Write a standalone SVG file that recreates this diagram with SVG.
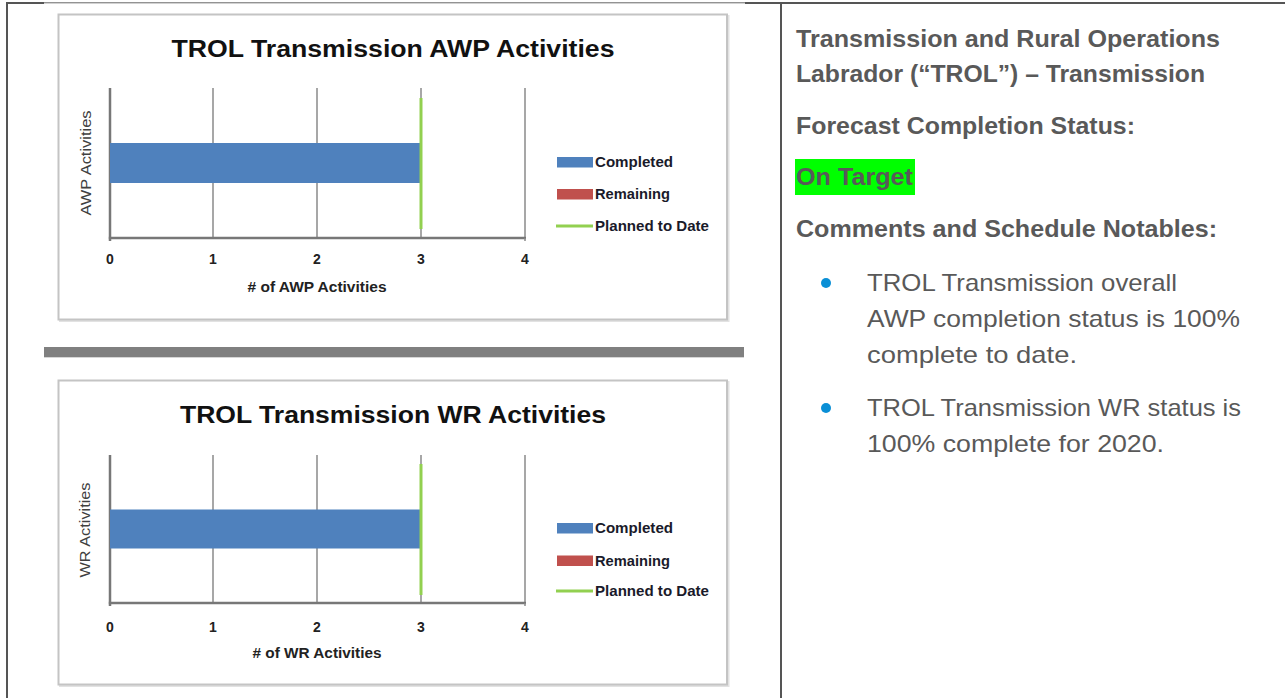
<svg xmlns="http://www.w3.org/2000/svg" width="1285" height="698" viewBox="0 0 1285 698">
<style>
.frame{stroke:#555;fill:none;stroke-width:2}
.thin{stroke:#666;fill:none;stroke-width:1}
.box{fill:#fff;stroke:#c4c4c4;stroke-width:2}
.shadow{fill:none;stroke:#e2e2e2;stroke-width:2}
.grid{stroke:#8a8a8a;stroke-width:1.5}
.axis{stroke:#777;stroke-width:2.5}
.bar{fill:#4f81bd}
.plan{stroke:#92d050;stroke-width:3}
.rem{fill:#c0504d}
.ctitle{font-family:"Liberation Sans",Arial,sans-serif;font-weight:bold;font-size:23px;fill:#111;text-anchor:middle}
.tick{font-family:"Liberation Sans",Arial,sans-serif;font-weight:bold;font-size:14px;fill:#222;text-anchor:middle}
.axt{font-family:"Liberation Sans",Arial,sans-serif;font-weight:bold;font-size:14px;fill:#222;text-anchor:middle}
.ytitle{font-family:"Liberation Sans",Arial,sans-serif;font-size:14px;fill:#404040;text-anchor:middle}
.leg{font-family:"Liberation Sans",Arial,sans-serif;font-weight:bold;font-size:14px;fill:#1a1a2a}
.head{font-family:"Liberation Sans",Arial,sans-serif;font-weight:bold;font-size:24px;fill:#595959}
.body{font-family:"Liberation Sans",Arial,sans-serif;font-size:24px;fill:#595959}
.dot{fill:#0a8fd6}
</style>

<g id="frame">
  <line class="frame" x1="7" y1="2" x2="7" y2="698"/>
  <line class="frame" x1="6" y1="3" x2="44" y2="3"/>
  <line class="thin" x1="44" y1="2.8" x2="745" y2="2.8"/>
  <line class="frame" x1="745" y1="3" x2="1285" y2="3"/>
  <line class="frame" x1="781" y1="3" x2="781" y2="698"/>
</g>

<g id="chart-awp">
  <rect class="shadow" x="60" y="16" width="668.5" height="305"/>
  <rect class="box" x="58.5" y="14.5" width="668.5" height="305"/>
  <text class="ctitle" x="393" y="57" textLength="443" lengthAdjust="spacingAndGlyphs">TROL Transmission AWP Activities</text>
  <line class="grid" x1="213" y1="88" x2="213" y2="238"/>
  <line class="grid" x1="317" y1="88" x2="317" y2="238"/>
  <line class="grid" x1="421" y1="88" x2="421" y2="238"/>
  <line class="grid" x1="525" y1="88" x2="525" y2="238"/>
  <line class="axis" x1="110" y1="88" x2="110" y2="241"/>
  <line class="axis" x1="108.8" y1="238" x2="526" y2="238"/>
  <line class="grid" x1="525" y1="238" x2="525" y2="241"/>
  <rect class="bar" x="110" y="143" width="310" height="40"/>
  <line class="plan" x1="421" y1="98" x2="421" y2="229"/>
  <text class="tick" x="110" y="264">0</text>
  <text class="tick" x="213" y="264">1</text>
  <text class="tick" x="317" y="264">2</text>
  <text class="tick" x="421" y="264">3</text>
  <text class="tick" x="525" y="264">4</text>
  <text class="axt" x="317" y="292" textLength="139" lengthAdjust="spacingAndGlyphs"># of AWP Activities</text>
  <text class="ytitle" transform="translate(91,163) rotate(-90)" textLength="105" lengthAdjust="spacingAndGlyphs">AWP Activities</text>
  <rect class="bar" x="557" y="157" width="36" height="10.5"/>
  <text class="leg" x="595" y="167" textLength="78" lengthAdjust="spacingAndGlyphs">Completed</text>
  <rect class="rem" x="557" y="189" width="36" height="10.5"/>
  <text class="leg" x="595" y="199" textLength="75" lengthAdjust="spacingAndGlyphs">Remaining</text>
  <line class="plan" x1="556" y1="226" x2="593" y2="226"/>
  <text class="leg" x="595" y="231" textLength="114" lengthAdjust="spacingAndGlyphs">Planned to Date</text>
</g>

<g id="separator">
  <rect x="44" y="347" width="700" height="10" fill="#808080"/>
  <line x1="44" y1="357.5" x2="744" y2="357.5" stroke="#d6d6d6" stroke-width="1"/>
</g>

<g id="chart-wr">
  <rect class="shadow" x="60" y="382" width="668.5" height="304"/>
  <rect class="box" x="58.5" y="380.5" width="668.5" height="304"/>
  <text class="ctitle" x="393" y="423" textLength="426" lengthAdjust="spacingAndGlyphs">TROL Transmission WR Activities</text>
  <line class="grid" x1="213" y1="455" x2="213" y2="603"/>
  <line class="grid" x1="317" y1="455" x2="317" y2="603"/>
  <line class="grid" x1="421" y1="455" x2="421" y2="603"/>
  <line class="grid" x1="525" y1="455" x2="525" y2="603"/>
  <line class="axis" x1="110" y1="455" x2="110" y2="606"/>
  <line class="axis" x1="108.8" y1="603" x2="526" y2="603"/>
  <line class="grid" x1="525" y1="603" x2="525" y2="606"/>
  <rect class="bar" x="110" y="509.5" width="310" height="39"/>
  <line class="plan" x1="421" y1="464" x2="421" y2="595"/>
  <text class="tick" x="110" y="632">0</text>
  <text class="tick" x="213" y="632">1</text>
  <text class="tick" x="317" y="632">2</text>
  <text class="tick" x="421" y="632">3</text>
  <text class="tick" x="525" y="632">4</text>
  <text class="axt" x="317" y="658" textLength="129" lengthAdjust="spacingAndGlyphs"># of WR Activities</text>
  <text class="ytitle" transform="translate(90,530) rotate(-90)" textLength="95" lengthAdjust="spacingAndGlyphs">WR Activities</text>
  <rect class="bar" x="557" y="523" width="36" height="10.5"/>
  <text class="leg" x="595" y="533" textLength="78" lengthAdjust="spacingAndGlyphs">Completed</text>
  <rect class="rem" x="557" y="555.5" width="36" height="10.5"/>
  <text class="leg" x="595" y="566" textLength="75" lengthAdjust="spacingAndGlyphs">Remaining</text>
  <line class="plan" x1="556" y1="591" x2="593" y2="591"/>
  <text class="leg" x="595" y="596" textLength="114" lengthAdjust="spacingAndGlyphs">Planned to Date</text>
</g>

<g id="status-panel">
  <text class="head" x="796" y="47" textLength="424" lengthAdjust="spacingAndGlyphs">Transmission and Rural Operations</text>
  <text class="head" x="796" y="82" textLength="409" lengthAdjust="spacingAndGlyphs">Labrador (“TROL”) – Transmission</text>
  <text class="head" x="796" y="134" textLength="339" lengthAdjust="spacingAndGlyphs">Forecast Completion Status:</text>
  <rect x="795" y="159" width="120" height="36" fill="#00ff00"/>
  <text class="head" x="796" y="185" textLength="117" lengthAdjust="spacingAndGlyphs">On Target</text>
  <text class="head" x="796" y="237" textLength="421" lengthAdjust="spacingAndGlyphs">Comments and Schedule Notables:</text>
  <circle class="dot" cx="826" cy="283" r="5"/>
  <text class="body" x="867" y="291" textLength="310" lengthAdjust="spacingAndGlyphs">TROL Transmission overall</text>
  <text class="body" x="867" y="327" textLength="373" lengthAdjust="spacingAndGlyphs">AWP completion status is 100%</text>
  <text class="body" x="867" y="363" textLength="210" lengthAdjust="spacingAndGlyphs">complete to date.</text>
  <circle class="dot" cx="826" cy="408" r="5"/>
  <text class="body" x="867" y="416" textLength="374" lengthAdjust="spacingAndGlyphs">TROL Transmission WR status is</text>
  <text class="body" x="867" y="452" textLength="297" lengthAdjust="spacingAndGlyphs">100% complete for 2020.</text>
</g>

<g id="connectors"></g>
</svg>
